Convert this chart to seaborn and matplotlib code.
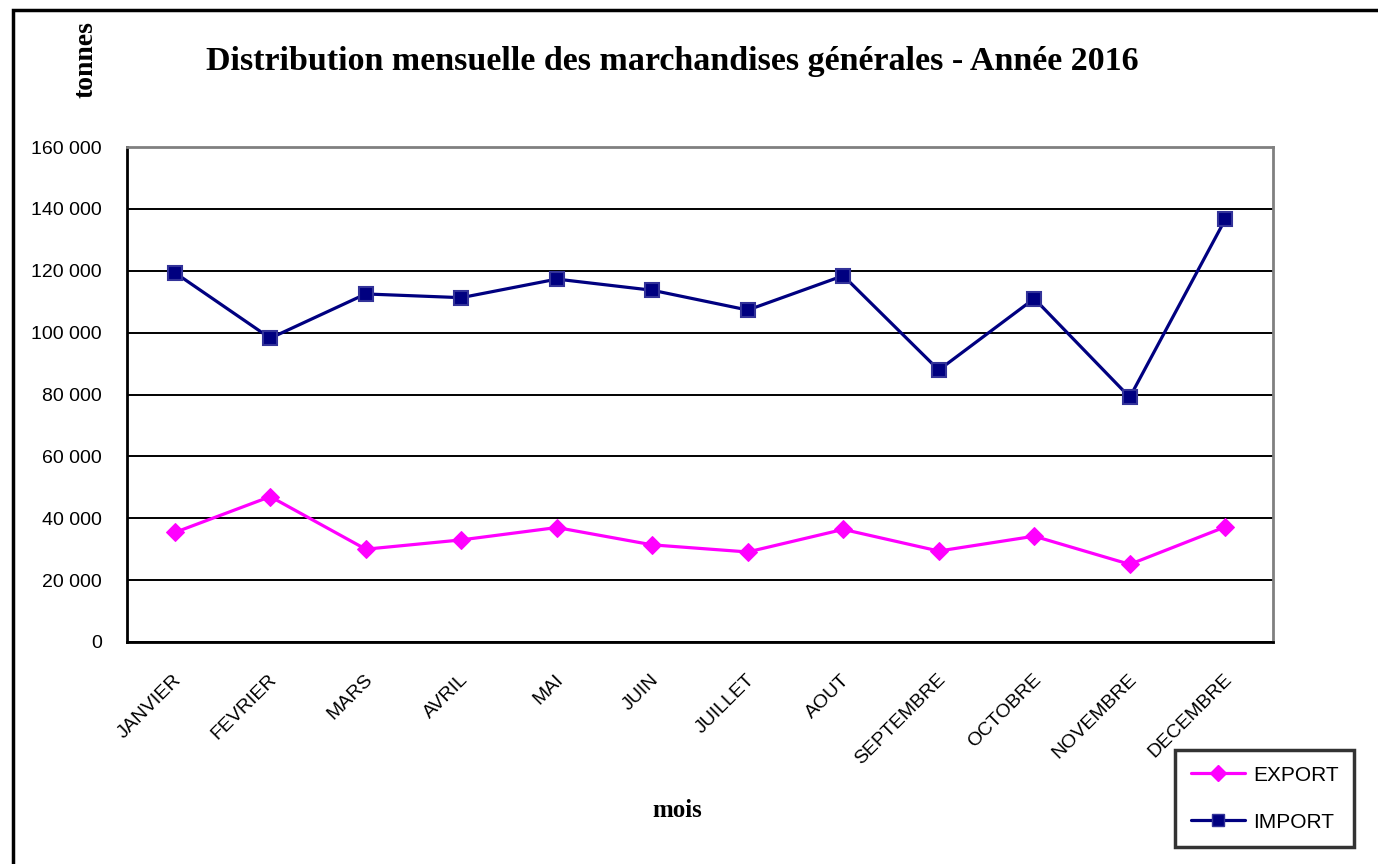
import matplotlib
matplotlib.use("Agg")
import matplotlib.pyplot as plt
import matplotlib.transforms as mtransforms
import seaborn as sns
import pandas as pd
import numpy as np
from matplotlib.lines import Line2D
from matplotlib.patches import Rectangle

months = ["JANVIER", "FEVRIER", "MARS", "AVRIL", "MAI", "JUIN", "JUILLET",
          "AOUT", "SEPTEMBRE", "OCTOBRE", "NOVEMBRE", "DECEMBRE"]
export_vals = [35400, 47000, 30000, 33000, 37000, 31400, 29100, 36400, 29400, 34200, 25100, 37200]
import_vals = [119400, 98200, 112500, 111300, 117300, 113700, 107300, 118400, 87900, 111000, 79100, 136600]
series_names = ["EXPORT", "IMPORT"]
yticks = [0, 20000, 40000, 60000, 80000, 100000, 120000, 140000, 160000]

df = pd.DataFrame({
    "mois": months * 2,
    "tonnes": export_vals + import_vals,
    "serie": [series_names[0]] * 12 + [series_names[1]] * 12,
})

sns.set_theme(style="white")
plt.rcParams["font.family"] = ["Liberation Sans", "DejaVu Sans"]
plt.rcParams["text.color"] = "black"
plt.rcParams["xtick.color"] = "black"
plt.rcParams["ytick.color"] = "black"
plt.rcParams["axes.labelcolor"] = "black"

W, H = 1378, 864
fig = plt.figure(figsize=(W / 100, H / 100), dpi=100)
ax = fig.add_axes([127 / W, 1 - 642 / H, (1273 - 127) / W, (642 - 147) / H])

palette = {"EXPORT": "#FF00FF", "IMPORT": "#000080"}
markers = {"EXPORT": "D", "IMPORT": "s"}
sns.lineplot(data=df, x="mois", y="tonnes", hue="serie", style="serie",
             palette=palette, markers=markers, dashes=False, sort=False,
             ax=ax, legend=False, linewidth=2.3)
for line in ax.get_lines():
    c = matplotlib.colors.to_hex(line.get_color()).lower()
    if c == "#000080":
        line.set_markersize(10)
        line.set_markeredgecolor("#333399")
        line.set_markerfacecolor("#000080")
        line.set_markeredgewidth(1.5)
    else:
        line.set_markersize(9)
        line.set_markeredgecolor("#FF00FF")
        line.set_markerfacecolor("#FF00FF")

ax.set_xlim(-0.5, 11.5)
ax.set_ylim(0, 160000)
ax.set_yticks(yticks)
ax.set_yticklabels([f"{v:,}".replace(",", " ") for v in yticks], fontsize=14)
ax.yaxis.grid(True, color="black", linewidth=1.4)
ax.set_axisbelow(True)

ax.set_xticks(range(12))
ax.set_xticklabels(months, rotation=45, ha="right", va="top",
                   rotation_mode="anchor", fontsize=14)
ax.set_xticks(np.arange(-0.5, 12, 1), minor=True)
ax.tick_params(axis="x", which="major", length=0, pad=21)
ax.tick_params(axis="x", which="minor", length=6, width=1.5, direction="out")
ax.tick_params(axis="y", which="major", length=5, width=1.5, direction="out", pad=13)
offset = mtransforms.ScaledTranslation(-2 / 100, 0, fig.dpi_scale_trans)
for lbl in ax.get_xticklabels():
    lbl.set_transform(lbl.get_transform() + offset)

ax.set_xlabel("")
ax.set_ylabel("")
for s in ["left", "bottom"]:
    ax.spines[s].set_color("black")
    ax.spines[s].set_linewidth(2)
for s in ["top", "right"]:
    ax.spines[s].set_color("#808080")
    ax.spines[s].set_linewidth(2)

serif = ["Liberation Serif", "DejaVu Serif"]
fig.text(672 / W, 1 - 70 / H, "Distribution mensuelle des marchandises générales - Année 2016",
         ha="center", va="baseline", fontsize=24.5, fontweight="bold", family=serif)
fig.text(86 / W, 1 - 60 / H, "tonnes", rotation=90, ha="center", va="center",
         fontsize=20, fontweight="bold", family=serif)
fig.text(677 / W, 1 - 817 / H, "mois", ha="center", va="baseline",
         fontsize=18, fontweight="bold", family=serif)

fig.patches.append(Rectangle((13 / W, -0.1), 1.2, 1 - 10 / H + 0.1, transform=fig.transFigure,
                             fill=False, edgecolor="black", linewidth=2.5))

handles = [Line2D([], [], color="#FF00FF", marker="D", markersize=8, linewidth=2.3),
           Line2D([], [], color="#000080", marker="s", markersize=9,
                  markeredgecolor="#333399", linewidth=2.3)]
leg = fig.legend(handles, series_names, loc="upper left",
                 bbox_to_anchor=(1175 / W, 1 - 750 / H), bbox_transform=fig.transFigure,
                 frameon=True, fancybox=False, edgecolor="black", fontsize=15,
                 handlelength=2.6, handletextpad=0.4, labelspacing=1.35,
                 borderpad=0.75, borderaxespad=0)
leg.get_frame().set_linewidth(2.5)
leg.get_frame().set_edgecolor("black")

fig.savefig("out.png", dpi=100, facecolor="white")
